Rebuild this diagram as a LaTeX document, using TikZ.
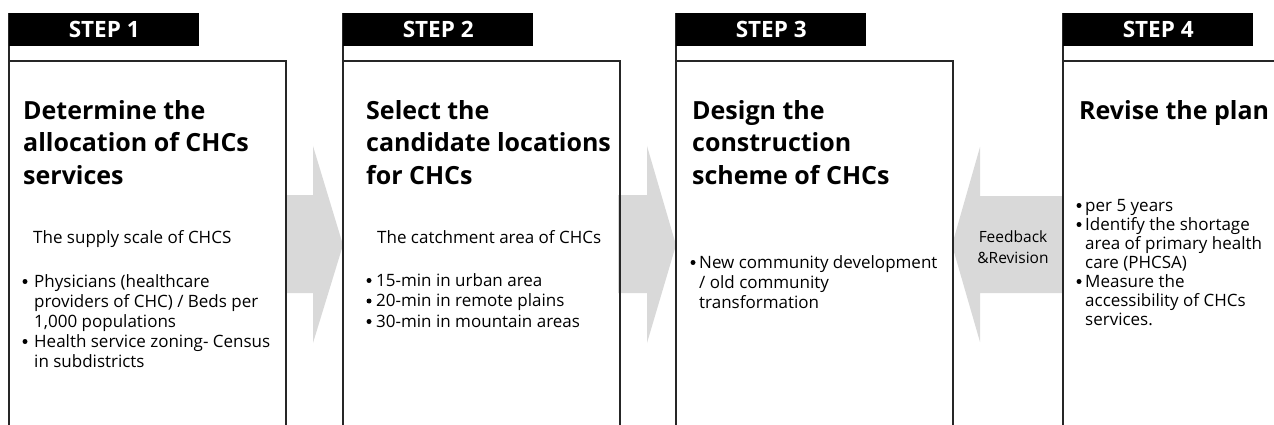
\documentclass[tikz,border=0pt]{standalone}
\usepackage{fontspec}
\setmainfont{Open Sans}
\usetikzlibrary{positioning}
\colorlet{arrowgray}{black!15}

\tikzset{
  panel/.style={draw=black!85, line width=1.2pt},
  tag/.style={fill=black, text=white, anchor=north west, inner sep=0pt,
    minimum width=190pt, minimum height=33pt,
    font=\bfseries\fontsize{22.5}{22.5}\selectfont},
  head/.style={anchor=base west, inner sep=0pt, font=\bfseries\fontsize{25}{30}\selectfont},
  body/.style={anchor=base west, inner sep=0pt, font=\fontsize{17}{20}\selectfont},
  dot/.style={circle, fill=black, inner sep=0pt, minimum size=5pt},
}

\begin{document}
\begin{tikzpicture}[x=1pt,y=-1pt]
\def\pw{277}
\useasboundingbox (0,0) rectangle (1274,425);

% grey block arrows behind the frames
\fill[arrowgray] (286,195) -- (313,195) -- (313,146) -- (343,245) -- (313,343) -- (313,293) -- (286,293) -- cycle;
\fill[arrowgray] (618,195) -- (647,195) -- (647,146) -- (676,245) -- (647,343) -- (647,293) -- (618,293) -- cycle;
\fill[arrowgray] (1063,196) -- (980,196) -- (980,147) -- (952,245) -- (980,342) -- (980,293) -- (1063,293) -- cycle;

\node (fb1) at (1013,242) [anchor=base, inner sep=0pt, font=\fontsize{15.5}{20}\selectfont] {Feedback};
\node (fb2) at (1013,263) [anchor=base, inner sep=0pt, font=\fontsize{15.5}{20}\selectfont] {\&Revision};

\foreach \n/\x in {1/9,2/343,3/676,4/1063}
{
\coordinate (P\n) at (\x,13);
\draw[panel] (P\n) -- (\x,430);
\node[tag] (T\n) at (P\n) {STEP \n};
}
\foreach \x in {9,343,676}
\draw[panel] (\x,61) -- ++(\pw,0) -- ++(0,370);
\draw[panel] (1063,61) -- (1280,61);

% step 1
\foreach \t [count=\i from 0] in {Determine the,allocation of CHCs,services}
\node[head] (H1-\i) at (23,120+32*\i) {\t};
\node[body] (S1) at (33,243) {The supply scale of CHCS};
\foreach \t [count=\i from 0] in {Physicians (healthcare,providers of CHC) / Beds per,{1,000 populations},Health service zoning- Census,in subdistricts}
\node[body] (L1-\i) at (34,287+20*\i) {\t};
\node[dot] (D1-a) at (25,281.5) {};
\node[dot] (D1-b) at (25,341.5) {};

% step 2
\foreach \t [count=\i from 0] in {Select the,candidate locations,for CHCs}
\node[head] (H2-\i) at (366,120+32*\i) {\t};
\node[body] (S2) at (377,243) {The catchment area of CHCs};
\foreach \t [count=\i from 0] in {15-min in urban area,20-min in remote plains,30-min in mountain areas}
{
\node[body] (L2-\i) at (376,286+20.5*\i) {\t};
\node[dot] (D2-\i) at (369,280.5+20.5*\i) {};
}

% step 3
\foreach \t [count=\i from 0] in {Design the,construction,scheme of CHCs}
\node[head] (H3-\i) at (692,120+32*\i) {\t};
\foreach \t [count=\i from 0] in {New community development,/ old community,transformation}
\node[body] (L3-\i) at (699,268+20*\i) {\t};
\node[dot] (D3) at (693,262.5) {};

% step 4
\node[head] (H4) at (1079,120) {Revise the plan};
\foreach \t [count=\i from 0] in {per 5 years,Identify the shortage,area of primary health,care (PHCSA),Measure the,accessibility of CHCs,services.}
\node[body] (L4-\i) at (1085,211+19*\i) {\t};
\foreach \i in {0,1,4}
\node[dot] (D4-\i) at (1079,205.5+19*\i) {};

\end{tikzpicture}
\end{document}
